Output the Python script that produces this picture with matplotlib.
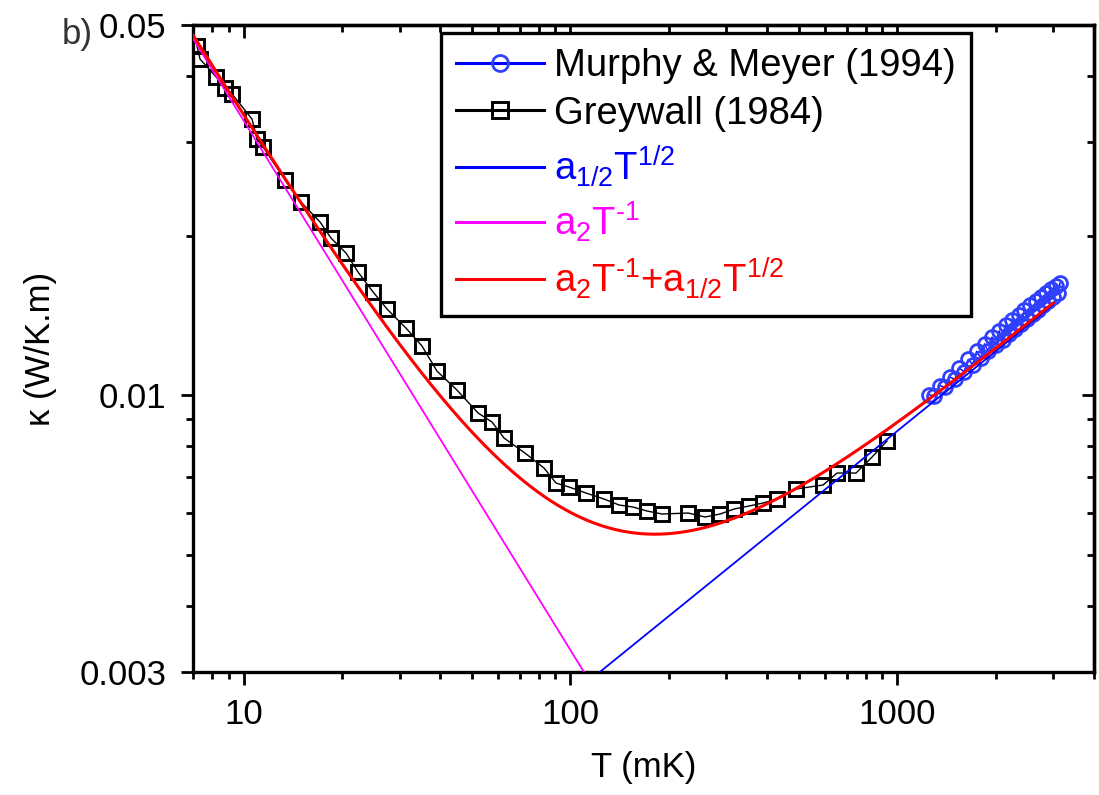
import numpy as np
import matplotlib
matplotlib.use("Agg")
import matplotlib.pyplot as plt
from matplotlib.ticker import FixedLocator, NullFormatter, FixedFormatter

plt.rcParams['font.family'] = ['Liberation Sans', 'DejaVu Sans']
plt.rcParams['mathtext.fontset'] = 'custom'
plt.rcParams['mathtext.rm'] = 'Liberation Sans'
plt.rcParams['mathtext.it'] = 'Liberation Sans'
plt.rcParams['mathtext.bf'] = 'Liberation Sans:bold'

# ---------------- data ----------------
greywall_T = [7.20, 7.355, 8.232, 8.772, 9.215, 10.61, 10.99, 11.47, 13.39, 14.98,
              17.13, 18.51, 20.57, 22.39, 24.89, 27.47, 31.40, 35.14, 39.06, 44.98,
              52.16, 57.56, 62.63, 72.63, 83.05, 90.35, 99.02, 111.6, 126.7, 140.9,
              155.4, 171.6, 190.7, 229.0, 258.2, 287.0, 316.7, 352.0, 388.5, 428.7,
              490.1, 592.9, 654.5, 748.0, 837.2, 930.5]
greywall_k = [0.04562, 0.04312, 0.03990, 0.03802, 0.03704, 0.03321, 0.03046, 0.02941, 0.02548, 0.02316,
              0.02123, 0.01980, 0.01855, 0.01708, 0.01566, 0.01454, 0.01338, 0.01238, 0.01110, 0.01022,
              0.009252, 0.008896, 0.008298, 0.007771, 0.007282, 0.006823, 0.006706, 0.006533, 0.006365, 0.006201,
              0.006147, 0.006041, 0.005963, 0.005989, 0.005886, 0.005963, 0.006094, 0.006174, 0.006255, 0.006365,
              0.006648, 0.006765, 0.007126, 0.007126, 0.007637, 0.008190]

murphy_T = [1250, 1300, 1350, 1400, 1450, 1500, 1550, 1600, 1650, 1700,
            1750, 1800, 1850, 1900, 1950, 2000, 2050, 2100, 2150, 2200,
            2250, 2300, 2350, 2400, 2450, 2500, 2550, 2600, 2650, 2700,
            2750, 2800, 2850, 2900, 2950, 3000, 3050, 3100, 3150]
murphy_k = [0.01002, 0.00997, 0.01042, 0.01035, 0.01081, 0.01072, 0.01125, 0.01107, 0.01168, 0.01142,
            0.01210, 0.01176, 0.01250, 0.01209, 0.01287, 0.01242, 0.01322, 0.01273, 0.01355, 0.01304,
            0.01387, 0.01335, 0.01418, 0.01365, 0.01448, 0.01394, 0.01478, 0.01423, 0.01505, 0.01451,
            0.01532, 0.01479, 0.01558, 0.01507, 0.01585, 0.01534, 0.01605, 0.01560, 0.01630]

# fit parameters (W/K.m, T in mK)
a2 = 0.33
a_half = 0.0002705
fit_T_range = (7, 3000)

x_major = [10, 100, 1000]
x_major_labels = ['10', '100', '1000']
y_major = [0.003, 0.01, 0.05]
y_major_labels = ['0.003', '0.01', '0.05']

HY = '\u2010'  # typographic hyphen, as in the original superscripts

# ---------------- figure ----------------
fig = plt.figure(figsize=(10.99, 7.95), dpi=100)
ax = fig.add_axes([193/1099, 1-672/795, (1094-193)/1099, (672-25)/795])
ax.set_xscale('log')
ax.set_yscale('log')
ax.set_xlim(7, 4000)
ax.set_ylim(0.003, 0.05)

Tfit = np.logspace(np.log10(fit_T_range[0]), np.log10(fit_T_range[1]), 400)

ax.plot(murphy_T, murphy_k, color='blue', lw=1.0, marker='o', ms=10, mfc='none',
        mec='#3040ff', mew=2.0, label='Murphy & Meyer (1994)', zorder=3)
ax.plot(greywall_T, greywall_k, color='black', lw=1.0, marker='s', ms=10.5, mfc='none',
        mec='black', mew=2.1, label='Greywall (1984)', zorder=3)
ax.plot(Tfit, a_half*np.sqrt(Tfit), color='blue', lw=1.3, label=r'a$_{1/2}$T$^{1/2}$', zorder=4)
ax.plot(Tfit, a2/Tfit, color='#ff00ff', lw=1.3, label=r'a$_2$T$^{' + HY + '1}$', zorder=4)
ax.plot(Tfit, a2/Tfit + a_half*np.sqrt(Tfit), color='red', lw=2.2,
        label=r'a$_2$T$^{' + HY + r'1}$+a$_{1/2}$T$^{1/2}$', zorder=5)

# ticks
xminor = [7, 8, 9] + list(range(20, 100, 10)) + list(range(200, 1000, 100)) + [2000, 3000, 4000]
yminor = [0.004, 0.005, 0.006, 0.007, 0.008, 0.009, 0.02, 0.03, 0.04]
ax.xaxis.set_major_locator(FixedLocator(x_major))
ax.xaxis.set_major_formatter(FixedFormatter(x_major_labels))
ax.xaxis.set_minor_locator(FixedLocator(xminor))
ax.xaxis.set_minor_formatter(NullFormatter())
ax.yaxis.set_major_locator(FixedLocator(y_major))
ax.yaxis.set_major_formatter(FixedFormatter(y_major_labels))
ax.yaxis.set_minor_locator(FixedLocator(yminor))
ax.yaxis.set_minor_formatter(NullFormatter())

ax.tick_params(which='major', direction='out', length=9, width=2.0, labelsize=25, pad=10)
ax.tick_params(which='minor', direction='out', length=5, width=2.0)
for s in ax.spines.values():
    s.set_linewidth(2.4)

secx = ax.secondary_xaxis('top')
secx.xaxis.set_major_locator(FixedLocator(x_major))
secx.xaxis.set_minor_locator(FixedLocator(xminor))
secx.xaxis.set_major_formatter(NullFormatter())
secx.xaxis.set_minor_formatter(NullFormatter())
secx.tick_params(which='major', direction='in', length=9, width=2.0)
secx.tick_params(which='minor', direction='in', length=5, width=2.0)
secx.spines['top'].set_linewidth(2.4)

secy = ax.secondary_yaxis('right')
secy.yaxis.set_major_locator(FixedLocator(y_major))
secy.yaxis.set_minor_locator(FixedLocator(yminor))
secy.yaxis.set_major_formatter(NullFormatter())
secy.yaxis.set_minor_formatter(NullFormatter())
secy.tick_params(which='major', direction='in', length=9, width=2.0)
secy.tick_params(which='minor', direction='in', length=5, width=2.0)
secy.spines['right'].set_linewidth(2.4)

ax.set_xlabel('T (mK)', fontsize=25, labelpad=14)
ax.set_ylabel('κ (W/K.m)', fontsize=25, labelpad=16)

fig.text(62/1099, 1-18/795, 'b)', fontsize=25, color='#333333', ha='left', va='top')

leg = ax.legend(loc='upper left', bbox_to_anchor=((441-193)/901, 1-(33-25)/647),
                borderaxespad=0, fontsize=27.5, frameon=True, fancybox=False,
                framealpha=1, edgecolor='black', handlelength=2.3, handletextpad=0.25,
                labelspacing=0.3, borderpad=0.4, markerscale=1.15)
leg.get_frame().set_linewidth(2.4)
for ln in leg.get_lines():
    ln.set_linewidth(2.2)
text_colors = ['black', 'black', 'blue', '#ff00ff', 'red']
for t, c in zip(leg.get_texts(), text_colors):
    t.set_color(c)

fig.savefig('out.png', dpi=100)
